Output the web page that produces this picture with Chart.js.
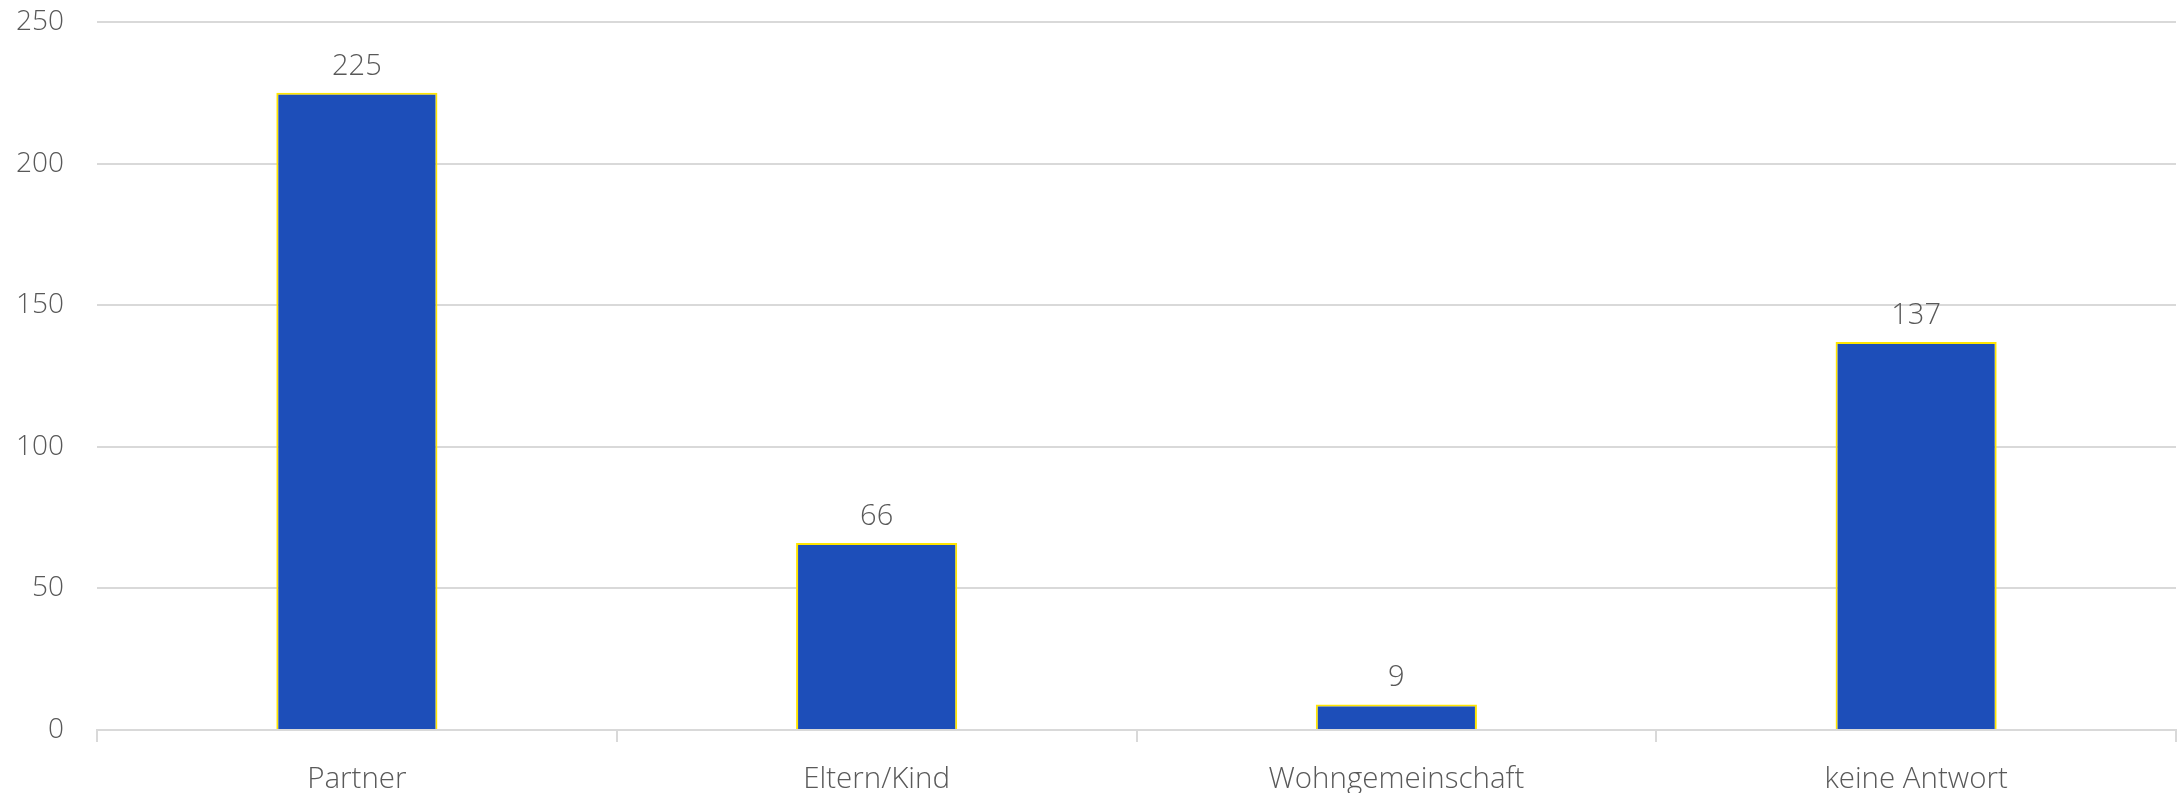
<!DOCTYPE html>
<html>
<head>
<meta charset="utf-8">
<script src="https://cdn.jsdelivr.net/npm/chart.js@4.4.1/dist/chart.umd.min.js"></script>
<style>
  html, body { margin: 0; padding: 0; background: #fff; }
  #wrap { width: 2183px; height: 793px; }
</style>
</head>
<body>
<div id="wrap"><canvas id="myChart"></canvas></div>
<script>
// Wohnsituation: Anzahl Antworten je Kategorie
const categories = ["Partner", "Eltern/Kind", "Wohngemeinschaft", "keine Antwort"];
const counts = [225, 66, 9, 137];
const yTicks = [0, 50, 100, 150, 200, 250];

const FONT = "'Open Sans', 'Segoe UI', sans-serif";
const TEXT = "#595959";
const GRID = "#d9d9d9";

// Werte über den Balken schreiben
const valueLabels = {
  id: "valueLabels",
  afterDatasetsDraw(chart) {
    const ctx = chart.ctx;
    const meta = chart.getDatasetMeta(0);
    ctx.save();
    ctx.font = "300 29px " + FONT;
    ctx.fillStyle = TEXT;
    ctx.textAlign = "center";
    ctx.textBaseline = "bottom";
    meta.data.forEach(function(bar, i) {
      ctx.fillText(String(counts[i]), bar.x, bar.y - 12);
    });
    ctx.restore();
  }
};

const data = {
  labels: categories,
  datasets: [
    {
      label: "Anzahl",
      data: counts,
      backgroundColor: "#1d4eb9",
      borderColor: "#ffe500",
      borderWidth: 2,
      barPercentage: 0.31,
      categoryPercentage: 1,
    },
  ],
};

const config = {
  type: "bar",
  data: data,
  options: {
    responsive: true,
    maintainAspectRatio: false,
    animation: false,
    layout: {
      padding: { top: 22, right: 7, left: 0, bottom: 0 },
    },
    plugins: {
      legend: { display: false },
      tooltip: { enabled: false },
    },
    scales: {
      x: {
        grid: {
          offset: true,
          drawOnChartArea: false,
          drawTicks: true,
          tickLength: 12,
          color: GRID,
          lineWidth: 2,
        },
        border: { color: GRID, width: 2 },
        ticks: {
          color: TEXT,
          font: { family: FONT, size: 29.5, weight: 300 },
          padding: 20,
        },
        afterFit(scale) { scale.height = 63; },
      },
      y: {
        min: 0,
        max: 250,
        afterBuildTicks(scale) {
          scale.ticks = yTicks.map(v => ({ value: v }));
        },
        grid: { color: GRID, lineWidth: 2, drawTicks: false },
        border: { display: false },
        ticks: {
          color: TEXT,
          font: { family: FONT, size: 28, weight: 300 },
          padding: 33,
        },
        afterFit(scale) {
          scale.width = 97;
          scale.paddingTop = 0;
          scale.paddingBottom = 0;
        },
      },
    },
  },
  plugins: [valueLabels],
};

/* Diagramm erstellen */
const context = document.getElementById("myChart").getContext("2d");
const chart = new Chart(context, config);
</script>
</body>
</html>
